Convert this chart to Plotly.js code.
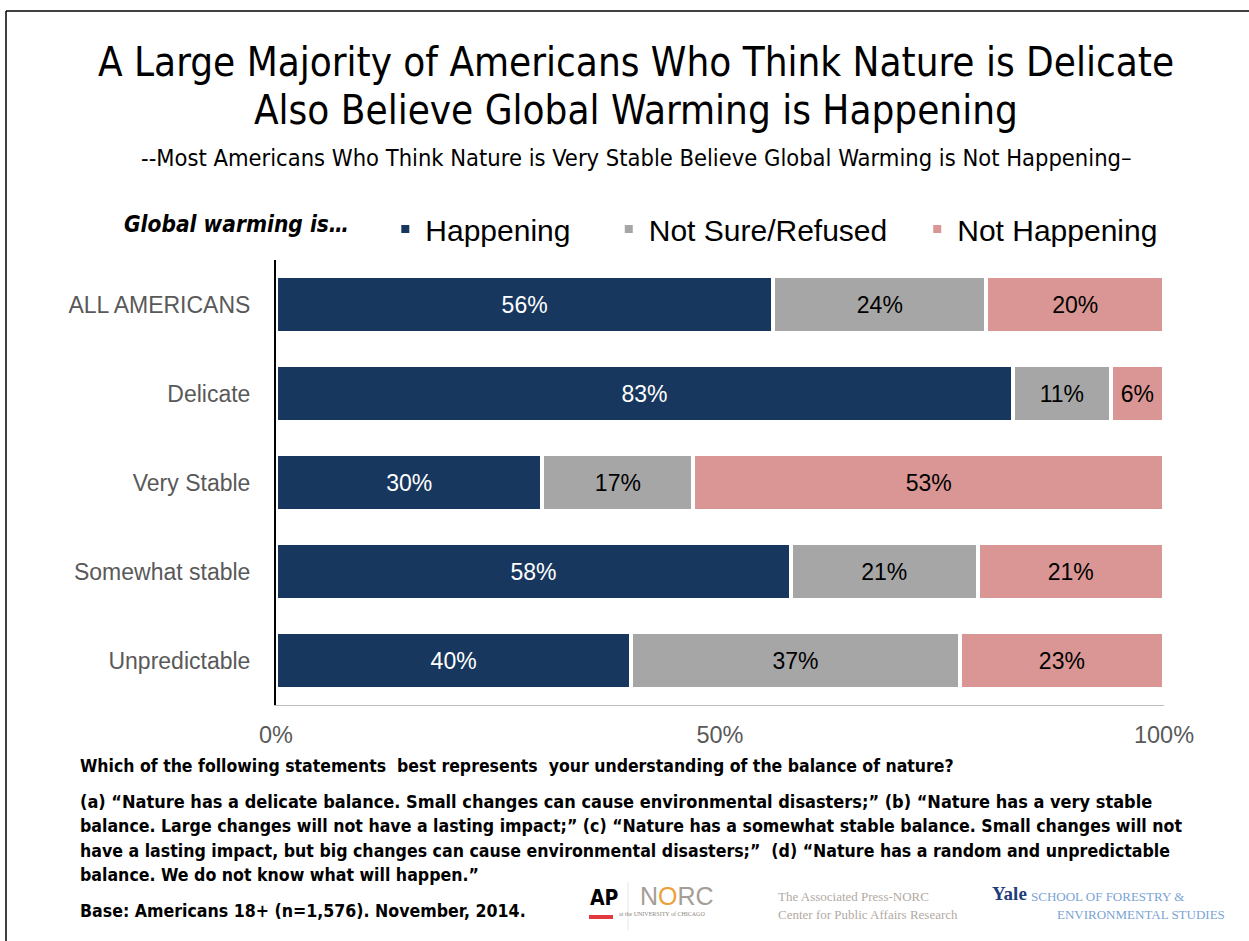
<!DOCTYPE html>
<html>
<head>
<meta charset="utf-8">
<script src="https://cdn.plot.ly/plotly-3.0.1.min.js"></script>
<style>html,body{margin:0;padding:0;background:#fff;}#chart{width:1249px;height:941px;}</style>
</head>
<body>
<div id="chart"></div>
<script>
// ---- data ----
const categories = ['ALL AMERICANS', 'Delicate', 'Very Stable', 'Somewhat stable', 'Unpredictable'];
const happening = [56, 83, 30, 58, 40];
const notSure = [24, 11, 17, 21, 37];
const notHappening = [20, 6, 53, 21, 23];
const seriesNames = ['Happening', 'Not Sure/Refused', 'Not Happening'];
const xTickVals = [0, 50, 100];
const xTickText = ['0%', '50%', '100%'];

const colors = ['#17375e', '#a6a6a6', '#d99694'];
const textColors = ['#ffffff', '#000000', '#000000'];
const seriesValues = [happening, notSure, notHappening];

// plot area geometry (px)
const PL = 276, PR = 1164, PT = 260, PB = 705;
const W = 1249, H = 941;
const px = v => (v - PL) / (PR - PL);
const py = v => (PB - v) / (PB - PT);

const sans = 'Liberation Sans, Arial, sans-serif';
const narrow = 'DejaVu Sans Condensed, sans-serif';
const serif = 'Liberation Serif, DejaVu Serif, serif';
const pads = ['\u00a0\u00a0\u00a0\u00a0', '\u00a0\u00a0\u00a0', ''];

const traces = seriesValues.map((vals, i) => ({
  type: 'bar',
  orientation: 'h',
  name: seriesNames[i] + pads[i],
  y: categories,
  x: vals,
  marker: {color: colors[i], line: {color: '#ffffff', width: 4}},
  text: vals.map(v => v + '%'),
  textposition: 'inside',
  insidetextanchor: 'middle',
  textangle: 0,
  textfont: {family: sans, size: 23, color: textColors[i]},
  hoverinfo: 'skip',
  cliponaxis: false
}));

const ann = (x, y, text, size, opts = {}) => Object.assign({
  xref: 'paper', yref: 'paper', x: px(x), y: py(y), text: text, showarrow: false,
  xanchor: 'left', yanchor: 'middle', align: 'left',
  font: {family: narrow, size: size, color: '#000000', weight: 'bold'}
}, opts);

const annotations = [
  ann(636, 62, 'A Large Majority of Americans Who Think Nature is Delicate', 40,
      {xanchor: 'center', font: {family: narrow, size: 40, color: '#000000'}}),
  ann(636, 110, 'Also Believe Global Warming is Happening', 40,
      {xanchor: 'center', font: {family: narrow, size: 40, color: '#000000'}}),
  ann(636, 158, '--Most Americans Who Think Nature is Very Stable Believe Global Warming is Not Happening–', 23.5,
      {xanchor: 'center', font: {family: narrow, size: 23.5, color: '#000000'}}),
  ann(78, 766, 'Which of the following statements  best represents  your understanding of the balance of nature?', 17.5),
  ann(78, 801, '(a) “Nature has a delicate balance. Small changes can cause environmental disasters;” (b) “Nature has a very stable', 18),
  ann(78, 826, 'balance. Large changes will not have a lasting impact;” (c) “Nature has a somewhat stable balance. Small changes will not', 17.6),
  ann(78, 851, 'have a lasting impact, but big changes can cause environmental disasters;”  (d) “Nature has a random and unpredictable', 17.6),
  ann(78, 875, 'balance. We do not know what will happen.”', 17.6),
  ann(78, 911, 'Base: Americans 18+ (n=1,576). November, 2014.', 17.6),
  // logos as text
  ann(588, 898, 'AP', 21, {font: {family: narrow, size: 21, color: '#000000', weight: 'bold'}}),
  ann(638, 896, 'N<span style="color:#eda03a">O</span>RC', 25, {font: {family: sans, size: 25, color: '#a59d96'}}),
  ann(707, 914, 'at the UNIVERSITY of CHICAGO', 6, {xanchor: 'right', font: {family: serif, size: 6, color: '#8a8580'}}),
  ann(776, 896, 'The Associated Press-NORC', 13, {font: {family: serif, size: 13, color: '#b2aaa3'}}),
  ann(776, 914, 'Center for Public Affairs Research', 13, {font: {family: serif, size: 13, color: '#b2aaa3'}}),
  ann(990, 893, 'Yale', 19, {font: {family: serif, size: 19, color: '#1f3d7a', weight: 'bold'}}),
  ann(1029, 896, 'SCHOOL OF FORESTRY &amp;', 13, {font: {family: serif, size: 13, color: '#7aa3d4'}}),
  ann(1227, 914, 'ENVIRONMENTAL STUDIES', 13, {xanchor: 'right', font: {family: serif, size: 13, color: '#7aa3d4'}})
];

const shapes = [
  // frame border (top and left)
  {type: 'line', xref: 'paper', yref: 'paper', x0: px(6), x1: px(1260), y0: py(11), y1: py(11), line: {color: '#000000', width: 1.5}},
  {type: 'line', xref: 'paper', yref: 'paper', x0: px(6), x1: px(6), y0: py(11), y1: py(960), line: {color: '#000000', width: 1.5}},
  // AP red bar
  {type: 'rect', xref: 'paper', yref: 'paper', x0: px(589), x1: px(613), y0: py(915), y1: py(919), fillcolor: '#e2383f', line: {width: 0}},
  // divider
  {type: 'line', xref: 'paper', yref: 'paper', x0: px(628), x1: px(628), y0: py(882), y1: py(930), line: {color: '#e6e6e6', width: 1}}
];

const layout = {
  width: W, height: H,
  margin: {l: PL, r: W - PR, t: PT, b: H - PB, pad: 0},
  paper_bgcolor: '#ffffff', plot_bgcolor: '#ffffff',
  barmode: 'stack',
  bargap: 0.37,
  showlegend: true,
  legend: {
    orientation: 'h',
    x: px(122), xanchor: 'left', y: py(229), yanchor: 'middle',
    font: {family: sans, size: 30, color: '#000000'},
    title: {text: 'Global warming is…    ', side: 'left', font: {family: narrow, size: 22.5, color: '#000000', weight: 'bold', style: 'italic'}},
    traceorder: 'normal',
    itemclick: false, itemdoubleclick: false,
    bgcolor: 'rgba(0,0,0,0)'
  },
  xaxis: {
    range: [0, 100],
    tickvals: xTickVals, ticktext: xTickText,
    showgrid: false, zeroline: false,
    showline: true, linecolor: '#bfbfbf', linewidth: 1,
    ticks: 'outside', ticklen: 9, tickcolor: 'rgba(0,0,0,0)',
    tickfont: {family: sans, size: 23.5, color: '#595959'},
    fixedrange: true
  },
  yaxis: {
    autorange: 'reversed',
    type: 'category',
    showgrid: false, zeroline: false,
    showline: true, linecolor: '#000000', linewidth: 2,
    ticks: 'outside', ticklen: 19, tickcolor: 'rgba(0,0,0,0)',
    tickfont: {family: sans, size: 23, color: '#595959'},
    fixedrange: true
  },
  annotations: annotations,
  shapes: shapes
};

Plotly.newPlot('chart', traces, layout, {displayModeBar: false, staticPlot: true});
</script>
</body>
</html>
